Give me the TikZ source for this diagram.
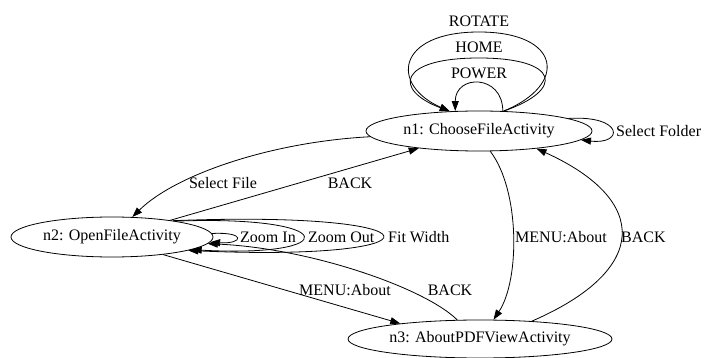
\documentclass[tikz,border=0pt]{standalone}
\usepackage{fontspec}
\setmainfont{Liberation Serif}
\usetikzlibrary{shapes.geometric,arrows.meta}
\begin{document}
\begin{tikzpicture}[x=1pt,y=-1pt,
  every node/.style={font=\fontsize{16}{19}\selectfont},
  state/.style={draw, ellipse, line width=0.8pt, inner sep=0pt, minimum height=40pt},
  edge/.style={draw, line width=0.8pt, -{Triangle[length=10pt,width=7pt]}},
  lbl/.style={inner sep=0pt}]
\useasboundingbox (0,0) rectangle (704,358);
\node[state, minimum width=226pt] (n1) at (479,131) {n1: ChooseFileActivity};
\node[state, minimum width=202pt] (n2) at (112,237) {n2: OpenFileActivity};
\node[state, minimum width=264pt, minimum height=38pt] (n3) at (480,339) {n3: AboutPDFViewActivity};
% self loops on n1
\draw[edge] (n1.39) .. controls (568,85) and (562,32) .. (479,32) .. controls (396,32) and (390,85) .. (n1.146);
\draw[edge] (n1.39) .. controls (565,90) and (560,58) .. (479,58) .. controls (398,58) and (393,90) .. (n1.146);
\draw[edge] (n1.40) .. controls +(0,-37) and +(0,-37) .. (n1.140);
\node[lbl] (lrot) at (479,21) {ROTATE};
\node[lbl] (lhome) at (479,47) {HOME};
\node[lbl] (lpow) at (479,73) {POWER};
\draw[edge] (n1.8) .. controls (624,115) and (624,145) .. (n1.-5);
\node[lbl, anchor=west] (lsf) at (616,131) {Select Folder};
% n1 -> n2
\draw[edge] (n1) .. controls (270,142) and (175,175) .. (n2);
\node[lbl] (lsfile) at (223,183) {Select File};
% n2 -> n1
\draw[edge] (n2.16) -- (n1.196);
\node[lbl] (lb1) at (350,183) {BACK};
% n2 self loops
\draw[edge] (n2.2) .. controls +(34,-2) and +(34,2) .. (n2.-3);
\node[lbl, anchor=west] (lzi) at (240,237) {Zoom In};
\draw[edge] (n2.14) .. controls (343,215) and (343,258) .. (n2.-9);
\node[lbl, anchor=west] (lzo) at (308,237) {Zoom Out};
\draw[edge] (n2.15) .. controls (450,210) and (450,262) .. (n2.-10);
\node[lbl, anchor=west] (lfw) at (388,237) {Fit Width};
% n2 -> n3
\draw[edge] (n2.-19) -- (n3.169);
\node[lbl] (lm2) at (345,290) {MENU:About};
% n3 -> n2
\draw[edge] (n3.140) .. controls (425,288) and (310,248) .. (n2.-4);
\node[lbl] (lb3) at (450,290) {BACK};
% n1 -> n3
\draw[edge] (n1.-61) .. controls (520,190) and (520,280) .. (n3.55);
\node[lbl, anchor=west] (lm1) at (515,237) {MENU:About};
% n3 -> n1
\draw[edge] (n3.19) .. controls (650,270) and (650,200) .. (n1.-17);
\node[lbl, anchor=west] (lb4) at (621,237) {BACK};
\end{tikzpicture}
\end{document}
